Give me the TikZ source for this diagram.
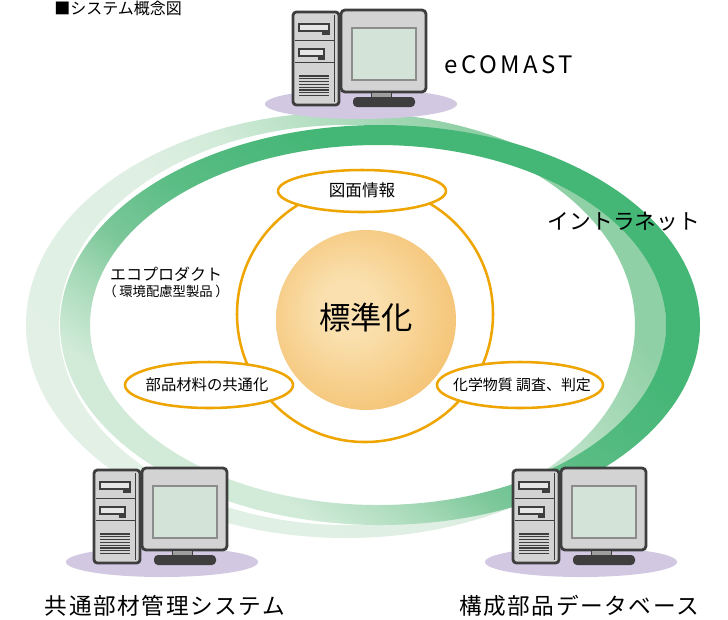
\documentclass[tikz,border=0pt]{standalone}
\usepackage{fontspec}
\setmainfont{Noto Sans CJK JP}
\usetikzlibrary{shadings}

% palette
\definecolor{hub}{HTML}{EFA500}
\definecolor{pcline}{HTML}{3E3E3E}
\definecolor{pcbody}{HTML}{D3D3D3}
\definecolor{pcslotfill}{HTML}{E6E6E6}
\definecolor{pcscreen}{HTML}{D3E3D7}
\definecolor{pcscreenline}{HTML}{8C8C8C}
\definecolor{shadowlilac}{HTML}{D2C8E2}
\definecolor{shadowedge}{HTML}{ECE7F3}
\definecolor{ballcore}{HTML}{FAE0AE}
\definecolor{ballrim}{HTML}{EFA83E}
\definecolor{lA}{HTML}{E6F2E9}
\definecolor{lB}{HTML}{DFEFE3}
\definecolor{lC}{HTML}{D2EBD9}
\definecolor{lD}{HTML}{A9DAB9}
\definecolor{lE}{HTML}{90D0A6}
\definecolor{dA}{HTML}{D2EBD9}
\definecolor{dB}{HTML}{A5D9B7}
\definecolor{dC}{HTML}{7CC79A}
\definecolor{dD}{HTML}{5ABD84}
\definecolor{dE}{HTML}{44B676}

% shadings
\pgfdeclareradialshading{pcshadow}{\pgfpoint{0bp}{0bp}}{color(0bp)=(shadowlilac); color(34bp)=(shadowlilac); color(50bp)=(shadowedge)}
\pgfdeclareradialshading{hubball}{\pgfpoint{-6bp}{4bp}}{color(0bp)=(ballcore); color(8bp)=(ballcore); color(50bp)=(ballrim)}
\pgfdeclareverticalshading{bandpale}{100bp}{color(0bp)=(lA); color(45bp)=(lB); color(52bp)=(lC); color(63bp)=(lD); color(70bp)=(lE); color(100bp)=(lE)}
\pgfdeclareverticalshading{bandstrong}{100bp}{color(0bp)=(dA); color(30bp)=(dA); color(37bp)=(dB); color(42bp)=(dC); color(50bp)=(dD); color(62bp)=(dE); color(100bp)=(dE)}

\tikzset{
  hubline/.style={draw=hub, line width=1.9pt},
  pcedge/.style={draw=pcline, line width=2.1pt},
  pcthin/.style={draw=pcline, line width=0.7pt},
  pcslot/.style={draw=pcline, line width=0.9pt, fill=pcslotfill},
  pcvent/.style={draw=pcline, line width=0.9pt},
  screenedge/.style={draw=pcscreenline, line width=1.1pt},
  lbl/.style={inner sep=0pt, text=black},
  pics/workstation/.style={code={
    % floor shadow
    \shade[shading=pcshadow] (68,92) ellipse[x radius=96, y radius=15];
    % tower case
    \draw[pcedge, fill=pcbody, rounded corners=2.5] (0,0) rectangle (46,93);
    \draw[pcthin] (41,3) -- (41,90);
    \draw[pcthin] (2,28) -- (41,28) (2,50) -- (41,50);
    \draw[pcslot] (6,12) rectangle (36,19);
    \fill[pcline] (29,18) rectangle (37,23);
    \draw[pcslot] (6,37) rectangle (31,44);
    \fill[pcline] (25,43) rectangle (32,48);
    \foreach \v in {0,...,7} \draw[pcvent] (6,64+\v*2.8) -- (36,64+\v*2.8);
    % monitor
    \draw[pcedge, fill=pcbody, rounded corners=3] (48,-2) rectangle (133,80);
    \draw[screenedge, fill=pcscreen] (59,16) rectangle (123,68);
    \draw[pcthin, fill=pcbody!75!black] (78,80) rectangle (98,86);
    \fill[pcline, rounded corners=3] (60,85) rectangle (122,95);
  }}
}

\begin{document}
\begin{tikzpicture}[x=0.75pt, y=-0.75pt]
\useasboundingbox (0,0) rectangle (728,619);
\fill[white] (0,0) rectangle (728,619);

% intranet ring: pale band, then strong band
\shade[shading=bandpale, shading angle=-50, even odd rule]
  (346,325) ellipse[x radius=320, y radius=213]
  (347,325) ellipse[x radius=288, y radius=200];
\shade[shading=bandstrong, shading angle=-35, even odd rule]
  (380,325) ellipse[x radius=320, y radius=200]
  (378,325) ellipse[x radius=288, y radius=180];

% standardisation hub
\draw[hubline] (365,314) circle[radius=128];
\shade[shading=hubball] (366,320) circle[radius=90];
\node[lbl] (std) at (366,318) {\fontsize{23.5}{24}\selectfont 標準化};

% satellite topics
\draw[hubline, fill=white] (362,191) ellipse[x radius=84, y radius=21];
\node[lbl] (drw) at (362,190) {\fontsize{12.4}{13}\selectfont 図面情報};
\draw[hubline, fill=white] (209,385) ellipse[x radius=84, y radius=23];
\node[lbl] (mat) at (207,385) {\fontsize{11.5}{12}\selectfont 部品材料の共通化};
\draw[hubline, fill=white] (520,385) ellipse[x radius=83, y radius=23];
\node[lbl] (chem) at (522,385) {\fontsize{11.2}{12}\selectfont 化学物質 調査、判定};

\node[lbl, align=center] (eco) at (166,282)
  {\fontsize{12}{16.5}\selectfont エコプロダクト\\（\kern2pt 環境配慮型製品\kern2pt ）};

\node[lbl] (net) at (624,222) {\fontsize{16.3}{17}\selectfont イントラネット};

% title
\node[lbl, anchor=north west] (title) at (54,0.5) {\fontsize{12}{13}\selectfont ■システム概念図};

% workstations
\pic (pcTop) at (293,12) {workstation};
\pic (pcLeft) at (94,470) {workstation};
\pic (pcRight) at (513,470) {workstation};

\node[lbl] (ecomast) at (509,65) {\fontsize{18}{19}\selectfont\addfontfeature{LetterSpace=14}eCOMAST};
\node[lbl] (common) at (165,606) {\fontsize{17}{18}\selectfont\addfontfeature{LetterSpace=7}共通部材管理システム};
\node[lbl] (parts) at (579,606) {\fontsize{17}{18}\selectfont\addfontfeature{LetterSpace=7}構成部品データベース};
\end{tikzpicture}
\end{document}
